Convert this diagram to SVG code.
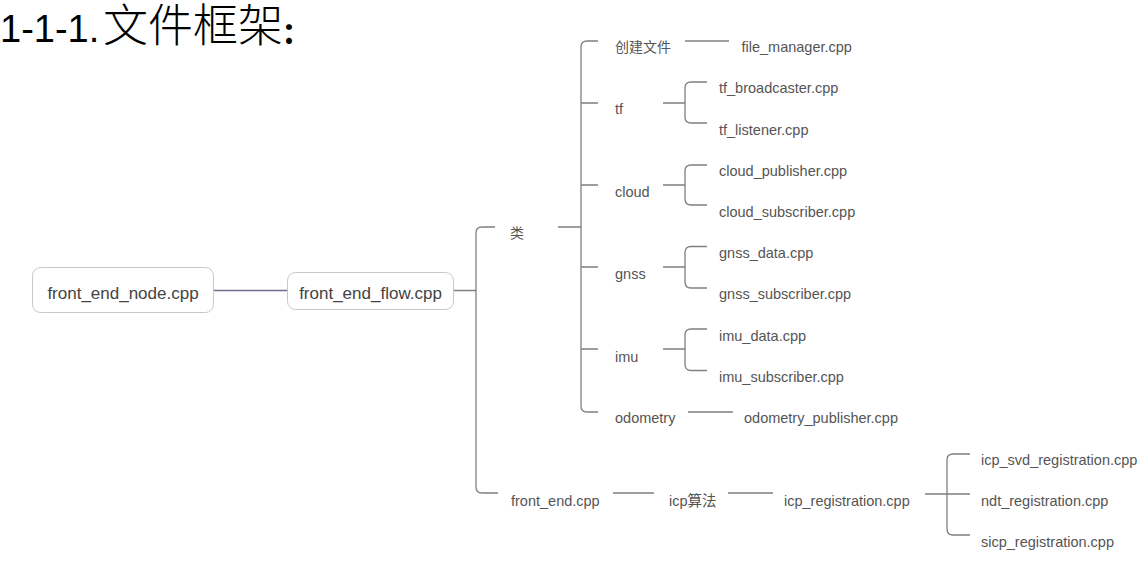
<svg xmlns="http://www.w3.org/2000/svg" width="1143" height="561" viewBox="0 0 1143 561">
<style>
.t{font-family:"Liberation Sans",Arial,"Noto Sans CJK SC",sans-serif;font-size:14.5px;fill:#555}
.c{font-family:"Noto Sans CJK SC",sans-serif;font-size:14px;fill:#555}
.b{font-family:"Liberation Sans",Arial,sans-serif;font-size:17px;fill:#444}
.box{fill:#fff;stroke:#c8c8c8;stroke-width:1}
.ln{fill:none;stroke:#7f7f7f;stroke-width:1.3}
</style>
<rect width="1143" height="561" fill="#fff"/>
<g id="title">
<text x="0" y="42" font-family="'Liberation Sans',Arial,sans-serif" font-size="38" fill="#000">1-1-1.</text>
<text x="103" y="41.5" font-family="'Noto Sans CJK SC',sans-serif" font-size="45" font-weight="300" fill="#000">文件框架<tspan dx="-8" dy="3.5" font-family="'Noto Sans CJK JP','Noto Sans CJK SC',sans-serif" font-size="28" font-weight="900">：</tspan></text>
</g>
<g id="connectors">
<path class="ln" d="M213 290.5H287" style="stroke:#6c6c8c"/>
<path class="ln" d="M453 290.5H476M495 227H482Q476 227 476 233V487Q476 493 482 493H498"/>
<path class="ln" d="M558 227H581M598 41H587Q581 41 581 47V406Q581 412 587 412H598M581 103H598M581 185H598M581 267H598M581 349H598"/>
<path class="ln" d="M685 41H729"/>
<path class="ln" d="M663 103H685M707 82H691Q685 82 685 88V117Q685 123 691 123H707"/>
<path class="ln" d="M663 185H685M707 165H691Q685 165 685 171V199Q685 205 691 205H707"/>
<path class="ln" d="M663 267H685M707 246.5H691Q685 246.5 685 252.5V282Q685 288 691 288H707"/>
<path class="ln" d="M663 349H685M707 329H691Q685 329 685 335V364.5Q685 370.5 691 370.5H707"/>
<path class="ln" d="M688 412H733"/>
<path class="ln" d="M613 493H654M728 493H773"/>
<path class="ln" d="M925 494H970M970 454H953Q947 454 947 460V529Q947 535 953 535H970"/>
</g>
<g id="n-front_end_node"><rect class="box" x="32.5" y="267.5" width="181" height="45" rx="8"/><text class="b" x="123" y="299" text-anchor="middle">front_end_node.cpp</text></g>
<g id="n-front_end_flow"><rect class="box" x="287.5" y="272.5" width="166" height="37" rx="8"/><text class="b" x="370.5" y="299" text-anchor="middle">front_end_flow.cpp</text></g>
<g id="n-lei"><text class="c" x="510" y="238">类</text></g>
<g id="n-create"><text class="c" x="615" y="51.5">创建文件</text></g>
<g id="n-file_manager"><text class="t" x="741.5" y="51.5">file_manager.cpp</text></g>
<g id="n-tf"><text class="t" x="615" y="114">tf</text></g>
<g id="n-tf_broadcaster"><text class="t" x="719" y="93">tf_broadcaster.cpp</text></g>
<g id="n-tf_listener"><text class="t" x="719" y="135">tf_listener.cpp</text></g>
<g id="n-cloud"><text class="t" x="615" y="196.5">cloud</text></g>
<g id="n-cloud_publisher"><text class="t" x="719" y="175.5">cloud_publisher.cpp</text></g>
<g id="n-cloud_subscriber"><text class="t" x="719" y="216.5">cloud_subscriber.cpp</text></g>
<g id="n-gnss"><text class="t" x="615" y="279">gnss</text></g>
<g id="n-gnss_data"><text class="t" x="719" y="258">gnss_data.cpp</text></g>
<g id="n-gnss_subscriber"><text class="t" x="719" y="299">gnss_subscriber.cpp</text></g>
<g id="n-imu"><text class="t" x="615" y="362">imu</text></g>
<g id="n-imu_data"><text class="t" x="719" y="341">imu_data.cpp</text></g>
<g id="n-imu_subscriber"><text class="t" x="719" y="381.5">imu_subscriber.cpp</text></g>
<g id="n-odometry"><text class="t" x="615" y="423">odometry</text></g>
<g id="n-odometry_publisher"><text class="t" x="744" y="423">odometry_publisher.cpp</text></g>
<g id="n-front_end"><text class="t" x="511" y="505.5">front_end.cpp</text></g>
<g id="n-icp"><text class="t" x="669" y="505.5">icp算法</text></g>
<g id="n-icp_registration"><text class="t" x="784" y="505.5">icp_registration.cpp</text></g>
<g id="n-icp_svd"><text class="t" x="981" y="465">icp_svd_registration.cpp</text></g>
<g id="n-ndt"><text class="t" x="981" y="505.5">ndt_registration.cpp</text></g>
<g id="n-sicp"><text class="t" x="981" y="546.5">sicp_registration.cpp</text></g>
</svg>
